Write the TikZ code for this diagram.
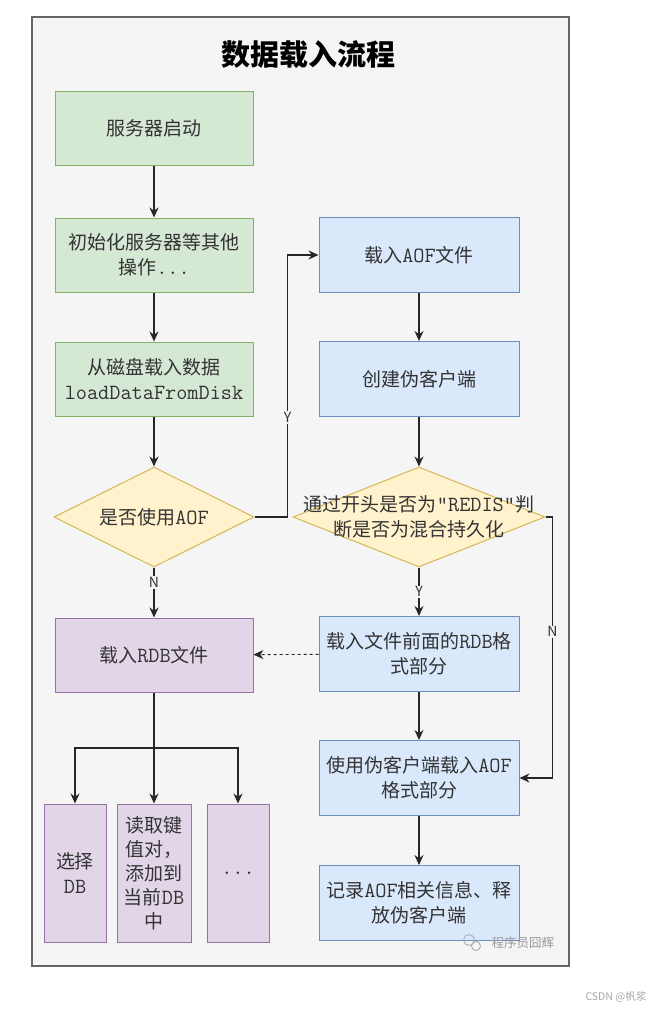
\documentclass[tikz,border=0pt]{standalone}
\usepackage{fontspec}
\setmainfont{Noto Sans CJK SC}
\setmonofont{Latin Modern Mono}[Scale=1.14]
\usetikzlibrary{shapes.geometric,arrows.meta}

\definecolor{panelfill}{HTML}{F5F5F5}
\definecolor{paneldraw}{HTML}{666666}
\definecolor{greenfill}{HTML}{D5E8D4}
\definecolor{greendraw}{HTML}{82B366}
\definecolor{bluefill}{HTML}{DAE8FC}
\definecolor{bluedraw}{HTML}{6C8EBF}
\definecolor{purplefill}{HTML}{E1D5E7}
\definecolor{purpledraw}{HTML}{9673A6}
\definecolor{yellowfill}{HTML}{FFF2CC}
\definecolor{yellowdraw}{HTML}{D6B656}
\definecolor{textdark}{HTML}{333333}

\tikzset{
  boxtext/.style={font=\fontsize{19}{25}\selectfont, text=textdark, align=center},
  greenbox/.style={boxtext, draw=greendraw, fill=greenfill, line width=1pt,
    minimum width=198pt, minimum height=74pt, inner sep=0pt},
  bluebox/.style={boxtext, draw=bluedraw, fill=bluefill, line width=1pt,
    minimum width=200pt, minimum height=75pt, inner sep=0pt},
  purplebox/.style={boxtext, draw=purpledraw, fill=purplefill, line width=1pt,
    minimum height=138pt, inner sep=0pt},
  decision/.style={diamond, draw=yellowdraw, fill=yellowfill, line width=1pt,
    inner sep=0pt, aspect=2},
  flow/.style={draw=black!85, line width=1.1pt, -{Stealth[length=10pt,width=9pt]}},
  lbl/.style={font=\fontsize{14}{14}\selectfont, text=textdark, fill=panelfill, inner sep=1pt}
}

\begin{document}
\begin{tikzpicture}[x=1pt, y=-1pt]
    \useasboundingbox (0,0) rectangle (669,1010);

    % Panel
    \draw[fill=panelfill, draw=paneldraw, line width=1.2pt] (32,17) rectangle (569,966);
    \node[font=\fontsize{29}{29}\selectfont\bfseries] (title) at (308,55) {数据载入流程};

    % Left column
    \node[greenbox] (start) at (154,128) {服务器启动};
    \node[greenbox] (init) at (154,255) {初始化服务器等其他\\操作\texttt{...}};
    \node[greenbox] (disk) at (154,379) {从磁盘载入数据\\\texttt{loadDataFromDisk}};
    \node[decision, minimum width=200pt, minimum height=100pt,
          label={[boxtext]center:是否使用\texttt{AOF}}] (useaof) at (154,517) {};
    \node[purplebox, minimum width=198pt, minimum height=74pt] (rdb) at (154,655) {载入\texttt{RDB}文件};
    \coordinate (fork) at (154,748);
    \node[purplebox, minimum width=62pt] (selectdb) at (75,873) {选择\\\texttt{DB}};
    \node[purplebox, minimum width=74pt, font=\fontsize{19}{24}\selectfont] (readkv) at (154,873) {读取键\\值对，\\添加到\\当前\texttt{DB}\\中};
    \node[purplebox, minimum width=62pt] (more) at (238,873) {\texttt{...}};

    % Right column
    \node[bluebox] (loadaof) at (419,255) {载入\texttt{AOF}文件};
    \node[bluebox] (fake) at (419,379) {创建伪客户端};
    \node[decision, minimum width=252pt, minimum height=100pt,
          label={[boxtext]center:通过开头是否为\texttt{"REDIS"}判\\断是否为混合持久化}] (mixed) at (419,517) {};
    \node[bluebox] (rdbpart) at (419,654) {载入文件前面的\texttt{RDB}格\\式部分};
    \node[bluebox] (aofpart) at (419,778) {使用伪客户端载入\texttt{AOF}\\格式部分};
    \node[bluebox] (release) at (419,903) {记录\texttt{AOF}相关信息、释\\放伪客户端};

    % Connectors
    \draw[flow] (start) -- (init);
    \draw[flow] (init) -- (disk);
    \draw[flow] (disk) -- (useaof);
    \draw[flow] (useaof.east) -- ++(33,0) |- node[lbl, pos=0.19] {Y} (loadaof.west);
    \draw[flow] (useaof) -- node[lbl, pos=0.3] {N} (rdb);
    \draw[line width=1.1pt, draw=black!85] (rdb) -- (fork);
    \draw[flow] (fork) -| (selectdb);
    \draw[flow] (fork) -- (readkv);
    \draw[flow] (fork) -| (more);
    \draw[flow] (loadaof) -- (fake);
    \draw[flow] (fake) -- (mixed);
    \draw[flow] (mixed) -- node[lbl] {Y} (rdbpart);
    \draw[flow] (mixed.east) -- ++(7,0) |- node[lbl, pos=0.22] {N} (aofpart.east);
    \draw[flow, dashed, line width=0.9pt] (rdbpart) -- (rdb);
    \draw[flow] (rdbpart) -- (aofpart);
    \draw[flow] (aofpart) -- (release);

    % Watermarks
    \draw[gray!60, line width=1pt] (469,940) circle (5.5pt) (476,946) circle (4.5pt);
    \node[font=\fontsize{12.5}{12.5}\selectfont, text=gray!80, anchor=west] (wm) at (488,943) {程序员囧辉};
    \node[font=\fontsize{10.5}{10.5}\selectfont, text=gray!70, anchor=west] (csdn) at (582,997) {CSDN @帆浆};
\end{tikzpicture}
\end{document}
